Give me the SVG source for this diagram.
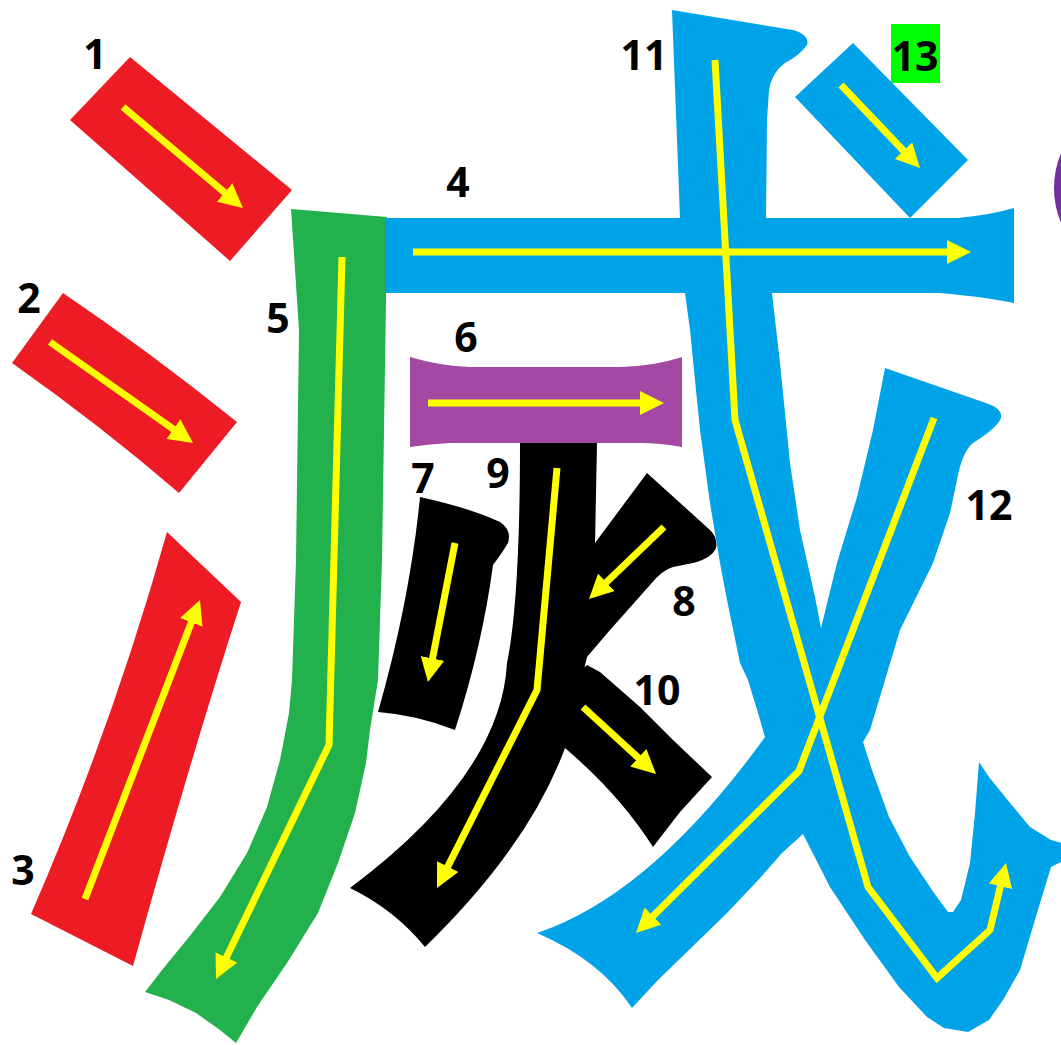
<svg xmlns="http://www.w3.org/2000/svg" width="1061" height="1045" viewBox="0 0 1061 1045">
<style>
.red{fill:#ED1C24}.green{fill:#22B14C}.blue{fill:#00A2E8}.purple{fill:#A349A4}.black{fill:#000}
.lbl{font-family:"Open Sans","Liberation Sans",sans-serif;font-weight:700;font-size:41px;fill:#000;text-anchor:middle}
.arr{fill:none;stroke:#FFFF00;stroke-width:7;stroke-linejoin:miter;marker-end:url(#ah)}
</style>
<defs>
<marker id="ah" markerUnits="userSpaceOnUse" markerWidth="24" markerHeight="24" refX="6" refY="12" orient="auto"><path d="M0,0 L24,12 L0,24 Z" fill="#FFFF00"/></marker>
</defs>
<rect width="1061" height="1045" fill="#fff"/>
<circle cx="1145" cy="188" r="91" fill="#7030A0"/>
<g id="stroke-1"><path class="red" d="M130,57 L292,190 L230,261 L70,120 Z"/><text class="lbl" x="95" y="69">1</text></g>
<g id="stroke-2"><path class="red" d="M63,293 Q150,352 237,422 L179,493 Q100,425 12,363 Z"/><text class="lbl" x="29" y="313">2</text></g>
<g id="stroke-3"><path class="red" d="M167,532 L241,602 Q190,760 133,966 L31,914 Q112,728 167,532 Z"/><text class="lbl" x="23" y="885">3</text></g>
<g id="stroke-5"><path class="green" d="M291,209 L387,217 L386,300 L382,560 L378,680 L370,730 L366,763 L355,813 L338,863 L318,913 L287,963 L257,1007 L236,1043 L220,1030 L196,1013 L169,1000 L145,992 L162,970 L189,937 L220,897 L247,853 L267,807 L280,760 L289,713 L292,680 L296,560 L299,330 Z"/><text class="lbl" x="278" y="333">5</text></g>
<g id="stroke-4"><path class="blue" d="M386,218 L958,218 Q990,215 1014,208 L1014,303 Q985,297 940,293 L386,293 Z"/><text class="lbl" x="458" y="197">4</text></g>
<g id="stroke-7"><path class="black" d="M420,497 Q470,508 500,522 Q512,530 508,543 Q500,556 493,565 Q482,647 455,730 Q417,715 378,712 Q410,600 420,497 Z"/><text class="lbl" x="423" y="493">7</text></g>
<g id="stroke-9"><path class="black" d="M520,443 L597,443 L595,545 L587,657 L565,748 Q529,846 425,947 Q395,910 350,888 Q501,775 507,663 Q520,600 520,443 Z"/><text class="lbl" x="498" y="488">9</text></g>
<g id="stroke-8"><path class="black" d="M647,473 L710,530 Q718,538 716,548 Q712,558 693,563 L673,567 Q662,570 650,585 L610,630 L587,657 L575,655 L580,560 L595,543 Z"/><text class="lbl" x="684" y="616">8</text></g>
<g id="stroke-10"><path class="black" d="M560,690 L587,665 L600,672 L640,707 L673,740 L712,777 L680,812 L653,847 Q620,795 565,748 L548,730 Z"/><text class="lbl" x="657" y="705">10</text></g>
<g id="stroke-6"><path class="purple" d="M410,357 Q440,366 470,367 L620,367 Q655,366 682,357 L682,447 Q660,443 640,443 L450,443 Q430,444 410,447 Z"/><text class="lbl" x="466" y="352">6</text></g>
<g id="stroke-11"><path class="blue" d="M672,10 L793,30 Q810,35 807,45 Q800,55 785,63 Q772,72 769,90 L767,120 L766,218 L772,293 L780,363 L790,463 L800,530 L815,597 L821,628 L863,742 L872,770 L889,817 L910,857 L934,893 L948,912 L953,912 L961,900 L970,863 L975,813 L979,762 L989,777 L1010,803 L1030,827 L1051,840 L1065,844 L1065,860 L1051,867 L1037,913 L1020,970 L1003,1000 L989,1020 L968,1032 L944,1028 L927,1017 L899,987 L865,940 L830,887 L803,834 L765,737 L758,713 L748,680 L740,663 L727,600 L720,563 L710,503 L700,430 L690,330 L685,293 L680,218 Z"/><text class="lbl" x="644" y="70">11</text></g>
<g id="stroke-12"><path class="blue" d="M885,368 L983,402 Q1003,408 1001,418 Q997,428 973,443 Q962,452 957,480 L950,513 L933,563 L900,630 L870,730 L863,742 L803,834 L782,853 L761,877 L727,913 L692,947 L658,980 L632,1008 Q600,960 537,933 Q651,895 765,737 L821,628 L837,563 L857,497 L873,430 Z"/><text class="lbl" x="989" y="520">12</text></g>
<g id="stroke-13"><path class="blue" d="M853,43 L968,160 L910,218 L795,97 Z"/><rect x="891" y="24" width="49" height="59" fill="#00FF00"/><text class="lbl" x="915" y="71">13</text></g>
<g id="arrows">
<path class="arr" d="M123,107 L229.2,196.4"/>
<path class="arr" d="M50,342 L178.3,432.6"/>
<path class="arr" d="M85,899 L193.5,616.8"/>
<path class="arr" d="M413,252 L953,252"/>
<path class="arr" d="M342,257 L329,745 L223.8,962.8"/>
<path class="arr" d="M428,403 L646,403"/>
<path class="arr" d="M455,543 L431.4,664.3"/>
<path class="arr" d="M664,527 L602,586.5"/>
<path class="arr" d="M557,468 L537,690 L445.1,871.9"/>
<path class="arr" d="M583,707 L642.7,761.8"/>
<path class="arr" d="M715,60 L735,420 L868,887 L937,978 L990,930 L1001.8,880.5"/>
<path class="arr" d="M934,418 L799,771 L648.8,920.3"/>
<path class="arr" d="M841,85 L907.6,155"/>
</g>
</svg>
